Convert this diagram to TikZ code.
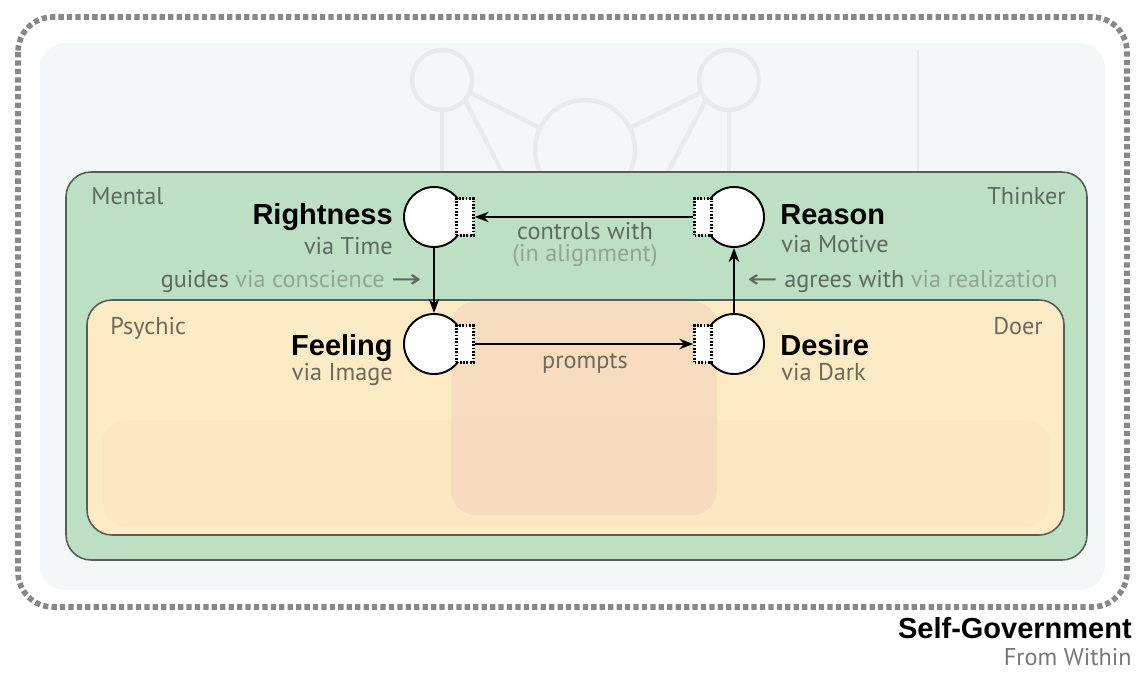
\documentclass[tikz,border=0pt]{standalone}
\usepackage{fontspec}
\usepackage{graphicx}
\setmainfont{PT Sans}
\newfontfamily\headfont{Liberation Sans}
\newfontfamily\arrowfont{DejaVu Sans}
\usepackage{xcolor}
\usepackage{tikz}
\usetikzlibrary{arrows.meta}

\definecolor{mentalgreen}{HTML}{BDE0C4}
\definecolor{psychicyellow}{HTML}{FDEBC5}
\definecolor{edgegray}{HTML}{5A5C5A}
\definecolor{ghostblue}{HTML}{F3F7F8}
\definecolor{ghostline}{HTML}{E6EBEB}
\definecolor{bodypink}{HTML}{F2D3BC}
\definecolor{innerband}{HTML}{FAE4C0}
\definecolor{fencegray}{HTML}{888888}
\definecolor{txtdark}{HTML}{5E6A60}
\definecolor{txtlight}{HTML}{8FA694}
\definecolor{txtwarm}{HTML}{6E695C}
\definecolor{txtgray}{HTML}{777777}

\begin{document}
\begin{tikzpicture}[x=0.02cm, y=-0.02cm,
  soul/.style={shape=circle, draw, fill=white, line width=1.1pt, minimum size=1.2cm, inner sep=0pt},
  port/.style={shape=rectangle, draw, dash pattern=on 1pt off 0.9pt, fill=white, line width=1.4pt, minimum width=0.34cm, minimum height=0.74cm, inner sep=0pt},
  flow/.style={-{Stealth[length=8pt, width=6pt]}, line width=1.1pt},
  soulname/.style={inner sep=0pt, font=\headfont\bfseries\fontsize{16.5}{18}\selectfont},
  viatext/.style={inner sep=0pt, font=\fontsize{13.8}{15}\selectfont},
  realm/.style={draw=edgegray, line width=0.9pt, rounded corners=0.5cm},
  ghost/.style={draw=ghostline, line width=2.5pt}]
 \useasboundingbox (0,0) rectangle (1138,675);

 % faded picture behind
 \fill [ghostblue, rounded corners=0.5cm] (40,43) rectangle (1105,590);
 \draw [fencegray, line width=3.2pt, dash pattern=on 3pt off 1.8pt, rounded corners=0.7cm] (18,17) rectangle (1127,607);
 \draw [ghost] (442,80) circle (0.6cm);
 \draw [ghost] (729,80) circle (0.6cm);
 \draw [ghost] (585,150) circle (1cm);
 \draw [ghost] (442,110) -- (442,172);
 \draw [ghost] (729,110) -- (729,172);
 \draw [ghost] (469,92) -- (540,128);
 \draw [ghost] (702,92) -- (630,128);
 \draw [ghost] (465,100) -- (502,172);
 \draw [ghost] (706,100) -- (668,172);
 \draw [ghostline, line width=1.5pt] (918,50) -- (918,172);

 % realms
 \draw [realm, fill=mentalgreen] (66,172) rectangle (1087,560);
 \draw [realm, fill=psychicyellow] (87,300) rectangle (1064,535);
 \fill [innerband, opacity=0.5, rounded corners=0.5cm] (102,420) rectangle (1050,527);
 \fill [bodypink, opacity=0.55, rounded corners=0.5cm] (451,301) rectangle (717,515);

 \node (mental) at (91,205) [viatext, anchor=base west, text=txtdark] {Mental} ;
 \node (thinker) at (1066,205) [viatext, anchor=base east, text=txtdark] {Thinker} ;
 \node (psychic) at (110,334) [viatext, anchor=base west, text=txtwarm] {Psychic} ;
 \node (doer) at (1043,334) [viatext, anchor=base east, text=txtwarm] {Doer} ;

 % the four
 \node (rightness) at (434,217) [soul] { } ;
 \node (reason) at (734,217) [soul] { } ;
 \node (feeling) at (434,344) [soul] { } ;
 \node (desire) at (734,344) [soul] { } ;
 \node (rightness-port) at (rightness.east) [port] { } ;
 \node (reason-port) at (reason.west) [port] { } ;
 \node (feeling-port) at (feeling.east) [port] { } ;
 \node (desire-port) at (desire.west) [port] { } ;

 \draw [flow] (reason-port) -- (rightness-port);
 \draw [flow] (feeling-port) -- (desire-port);
 \draw [flow] (rightness) -- (feeling);
 \draw [flow] (desire) -- (reason);

 \node (rightness-name) at (393,225) [soulname, anchor=base east] {Rightness} ;
 \node (rightness-via) at (393,255) [viatext, anchor=base east, text=txtdark] {via Time} ;
 \node (feeling-name) at (393,355) [soulname, anchor=base east] {Feeling} ;
 \node (feeling-via) at (393,380) [viatext, anchor=base east, text=txtwarm] {via Image} ;
 \node (reason-name) at (780,225) [soulname, anchor=base west] {Reason} ;
 \node (reason-via) at (781,253) [viatext, anchor=base west, text=txtdark] {via Motive} ;
 \node (desire-name) at (780,355) [soulname, anchor=base west] {Desire} ;
 \node (desire-via) at (781,380) [viatext, anchor=base west, text=txtwarm] {via Dark} ;

 \node (controls) at (585,240) [viatext, anchor=base, text=txtdark] {controls with} ;
 \node (alignment) at (585,262) [viatext, anchor=base, text=txtlight] {(in alignment)} ;
 \node (prompts) at (585,368) [viatext, anchor=base, text=txtwarm] {prompts} ;
 \node (guides) at (422,288) [viatext, anchor=base east, text=txtdark]
   {guides \textcolor{txtlight}{via conscience} {\arrowfont\scalebox{1.5}[1]{→}}} ;
 \node (agrees) at (747,288) [viatext, anchor=base west, text=txtdark]
   {{\arrowfont\scalebox{1.5}[1]{←}} agrees with \textcolor{txtlight}{via realization}} ;

 \node (title) at (1132,638) [soulname, anchor=base east] {Self-Government} ;
 \node (subtitle) at (1132,665) [viatext, anchor=base east, text=txtgray] {From Within} ;
\end{tikzpicture}
\end{document}
